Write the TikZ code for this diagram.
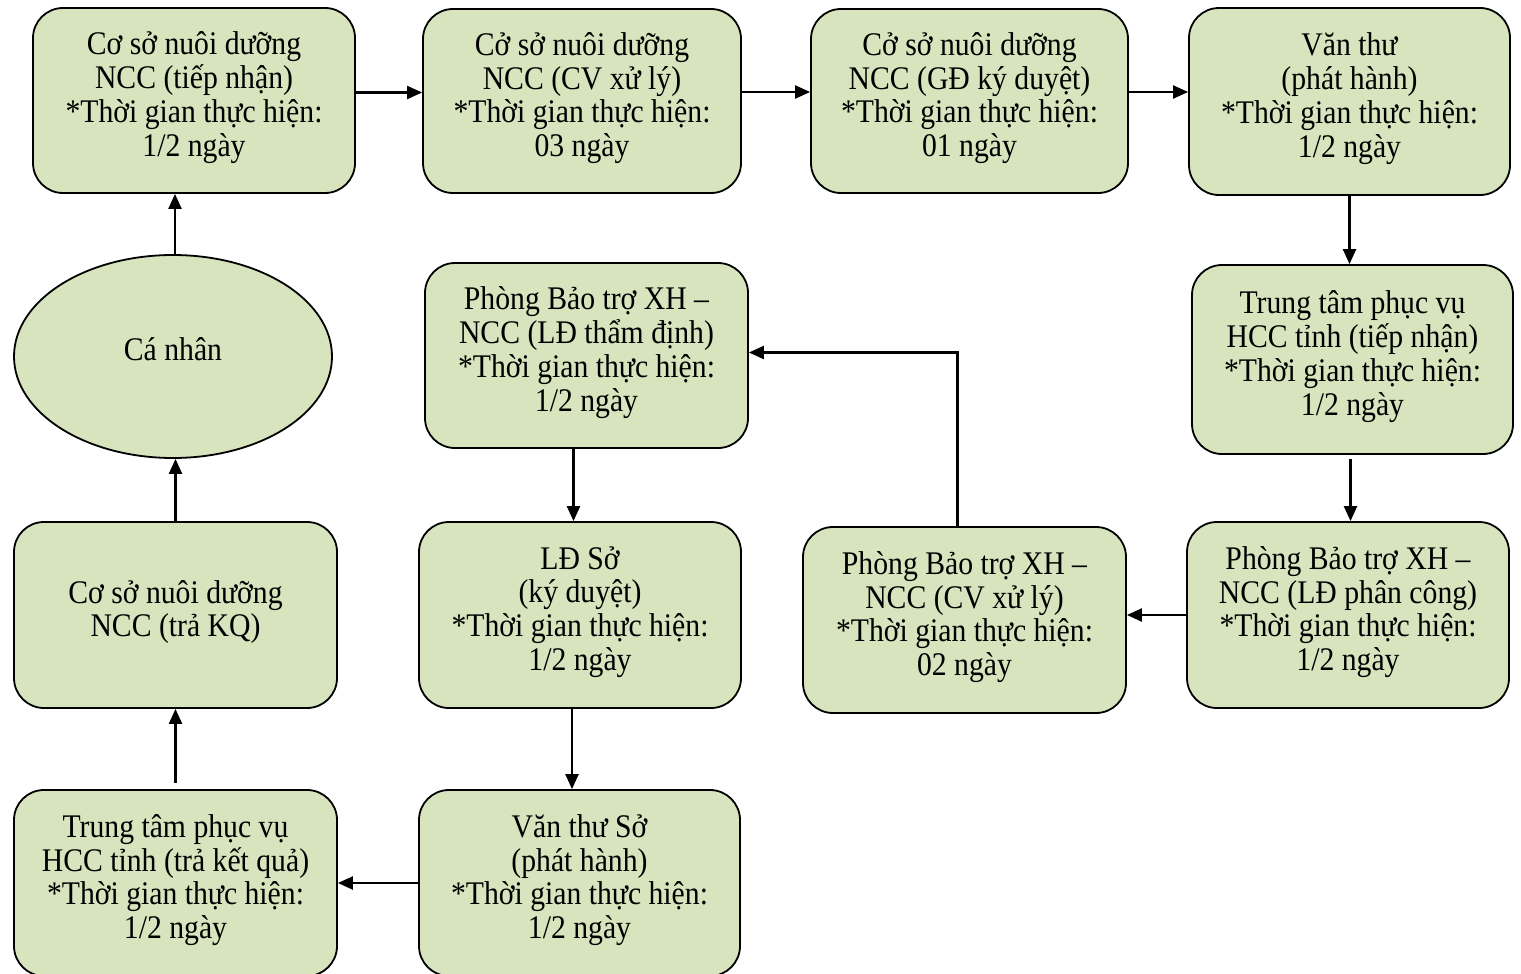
\documentclass[tikz,border=0pt]{standalone}
\usepackage{fontspec}
\setmainfont{Liberation Serif}[FakeStretch=0.9]
\usetikzlibrary{arrows.meta,shapes.geometric}
\definecolor{boxfill}{RGB}{215,228,189}
\newcommand\lowfix{\rule[-13pt]{0pt}{0pt}}
\tikzset{
  stepbox/.style={draw=black, line width=1.8pt, fill=boxfill, rounded corners=30pt,
    align=center, inner sep=0pt, font=\fontsize{33}{33.8}\selectfont},
  ovalbox/.style={draw=black, line width=1.8pt, fill=boxfill, ellipse, inner sep=0pt,
    align=center, font=\fontsize{33}{33.8}\selectfont},
  arr/.style={line width=2.2pt, -{Triangle[length=15pt,width=13pt]}},
}
\begin{document}
\begin{tikzpicture}[x=1pt,y=-1pt]
\useasboundingbox (0,0) rectangle (1521,974);
\node[stepbox, minimum width=322pt, minimum height=185pt] (A) at (194,100.5)
  {Cơ sở nuôi dưỡng\\NCC (tiếp nhận)\\*Thời gian thực hiện:\\1/2 ngày\lowfix};
\node[stepbox, minimum width=318pt, minimum height=184pt] (B) at (582,101)
  {Cở sở nuôi dưỡng\\NCC (CV xử lý)\\*Thời gian thực hiện:\\03 ngày\lowfix};
\node[stepbox, minimum width=317pt, minimum height=184pt] (C) at (969.5,101)
  {Cở sở nuôi dưỡng\\NCC (GĐ ký duyệt)\\*Thời gian thực hiện:\\01 ngày\lowfix};
\node[stepbox, minimum width=321pt, minimum height=187pt] (D) at (1349.5,101.5)
  {Văn thư\\(phát hành)\\*Thời gian thực hiện:\\1/2 ngày\lowfix};
\node[stepbox, minimum width=321pt, minimum height=189pt] (E) at (1352.5,359.5)
  {Trung tâm phục vụ\\HCC tỉnh (tiếp nhận)\\*Thời gian thực hiện:\\1/2 ngày\lowfix};
\node[stepbox, minimum width=322pt, minimum height=186pt] (F) at (1348,615)
  {Phòng Bảo trợ XH –\\NCC (LĐ phân công)\\*Thời gian thực hiện:\\1/2 ngày\lowfix};
\node[stepbox, minimum width=323pt, minimum height=186pt] (G) at (964.5,620)
  {Phòng Bảo trợ XH –\\NCC (CV xử lý)\\*Thời gian thực hiện:\\02 ngày\lowfix};
\node[stepbox, minimum width=323pt, minimum height=185pt] (H) at (586.5,355.5)
  {Phòng Bảo trợ XH –\\NCC (LĐ thẩm định)\\*Thời gian thực hiện:\\1/2 ngày\lowfix};
\node[stepbox, minimum width=322pt, minimum height=186pt] (I) at (580,615)
  {LĐ Sở\\(ký duyệt)\\*Thời gian thực hiện:\\1/2 ngày\lowfix};
\node[stepbox, minimum width=321pt, minimum height=186pt] (J) at (579.5,883)
  {Văn thư Sở\\(phát hành)\\*Thời gian thực hiện:\\1/2 ngày\lowfix};
\node[stepbox, minimum width=323pt, minimum height=186pt] (K) at (175.5,883)
  {Trung tâm phục vụ\\HCC tỉnh (trả kết quả)\\*Thời gian thực hiện:\\1/2 ngày\lowfix};
\node[stepbox, minimum width=323pt, minimum height=186pt] (L) at (175.5,615)
  {Cơ sở nuôi dưỡng\\NCC (trả KQ)\lowfix};
\node[ovalbox, minimum width=318pt, minimum height=203pt] (M) at (173,356.5)
  {Cá nhân\rule[-15pt]{0pt}{0pt}};
\draw[arr] ([yshift=8pt]A.east) -- ([yshift=8pt]A.east -| B.west);
\draw[arr] ([yshift=9pt]B.east) -- ([yshift=9pt]B.east -| C.west);
\draw[arr] ([yshift=9pt]C.east) -- ([yshift=9pt]C.east -| D.west);
\draw[arr] (D.south) -- (D.south |- E.north);
\draw[arr] ([xshift=-2pt,yshift=-4pt]E.south) -- ([xshift=-2pt]E.south |- F.north);
\draw[arr] (F.west) -- (F.west -| G.east);
\draw[arr] ([xshift=-7pt]G.north) |- ([yshift=3pt]H.east);
\draw[arr] ([xshift=-13pt]H.south) -- ([xshift=-13pt]H.south |- I.north);
\draw[arr] ([xshift=-8pt]I.south) -- ([xshift=-8pt]I.south |- J.north);
\draw[arr] (J.west) -- (J.west -| K.east);
\draw[arr] ([yshift=6pt]K.north) -- (L.south);
\draw[arr] (L.north) -- (L.north |- M.south);
\draw[arr] ([xshift=2pt]M.north) -- ([xshift=2pt]M.north |- A.south);
\end{tikzpicture}
\end{document}
